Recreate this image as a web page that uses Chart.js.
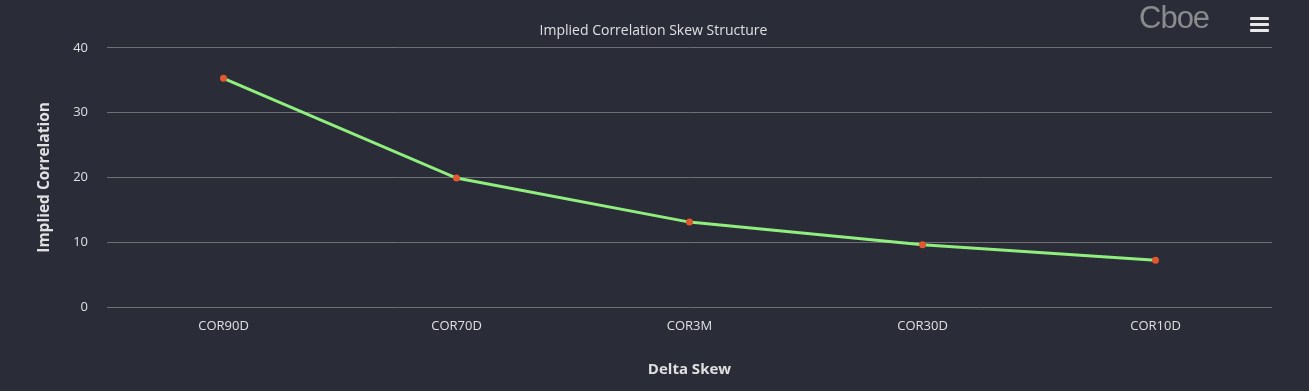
<!DOCTYPE html>
<html>
<head>
<meta charset="utf-8">
<script src="https://cdn.jsdelivr.net/npm/chart.js@4"></script>
<style>
  html, body { margin: 0; padding: 0; background: #2a2c37; }
  #wrap { position: relative; width: 1309px; height: 391px; }
  #logo {
    position: absolute; left: 1139px; top: 0px;
    font-family: "Liberation Sans", Arial, sans-serif; font-size: 31px;
    color: #8a8b8f; letter-spacing: -1px;
  }
  #menu { position: absolute; left: 1250px; top: 17px; width: 19px; }
  #menu div { height: 3px; background: #e8e8ea; margin-bottom: 3px; border-radius: 1px; }
</style>
</head>
<body>
<div id="wrap">
  <canvas id="chart" width="1309" height="391"></canvas>
  <div id="logo">Cboe</div>
  <div id="menu"><div></div><div></div><div></div></div>
</div>
<script>
const categories = ['COR90D', 'COR70D', 'COR3M', 'COR30D', 'COR10D'];
const correlation = [35.3, 19.9, 13.1, 9.6, 7.2];

const textColor = '#e0e0e3';
const fontFamily = '"Open Sans", sans-serif';

new Chart(document.getElementById('chart'), {
  type: 'line',
  data: {
    labels: categories,
    datasets: [{
      label: 'Implied Correlation',
      data: correlation,
      borderColor: '#90ee7e',
      backgroundColor: '#e2572c',
      pointBackgroundColor: '#e2572c',
      pointBorderWidth: 0,
      pointRadius: 3.5,
      borderWidth: 3,
      tension: 0,
      fill: false,
    }],
  },
  options: {
    responsive: false,
    animation: false,
    layout: {
      padding: { left: 35, right: 37, top: 0, bottom: 12 },
    },
    plugins: {
      legend: { display: false },
      tooltip: { enabled: false },
      title: {
        display: true,
        text: 'Implied Correlation Skew Structure',
        color: textColor,
        font: { family: fontFamily, size: 14, weight: 'normal' },
        padding: { top: 23, bottom: 8 },
      },
    },
    scales: {
      x: {
        offset: true,
        grid: { display: false, drawTicks: false },
        border: { display: false },
        ticks: {
          color: textColor,
          font: { family: fontFamily, size: 13 },
          padding: 11,
          maxRotation: 0,
        },
        title: {
          display: true,
          text: 'Delta Skew',
          color: textColor,
          font: { family: fontFamily, size: 15, weight: 'bold' },
          padding: { top: 25, bottom: 0 },
        },
        afterFit(scale) { scale.height = 72; },
      },
      y: {
        min: 0,
        max: 40,
        grid: { color: '#707073', lineWidth: 1, drawTicks: false },
        border: { display: false },
        ticks: {
          stepSize: 10,
          color: textColor,
          font: { family: fontFamily, size: 13 },
          padding: 19,
        },
        title: {
          display: true,
          text: 'Implied Correlation',
          color: textColor,
          font: { family: fontFamily, size: 15.5, weight: 'bold' },
          padding: { top: 0, bottom: 18 },
        },
        afterFit(scale) { scale.width = 72; },
      },
    },
  },
});
</script>
</body>
</html>
